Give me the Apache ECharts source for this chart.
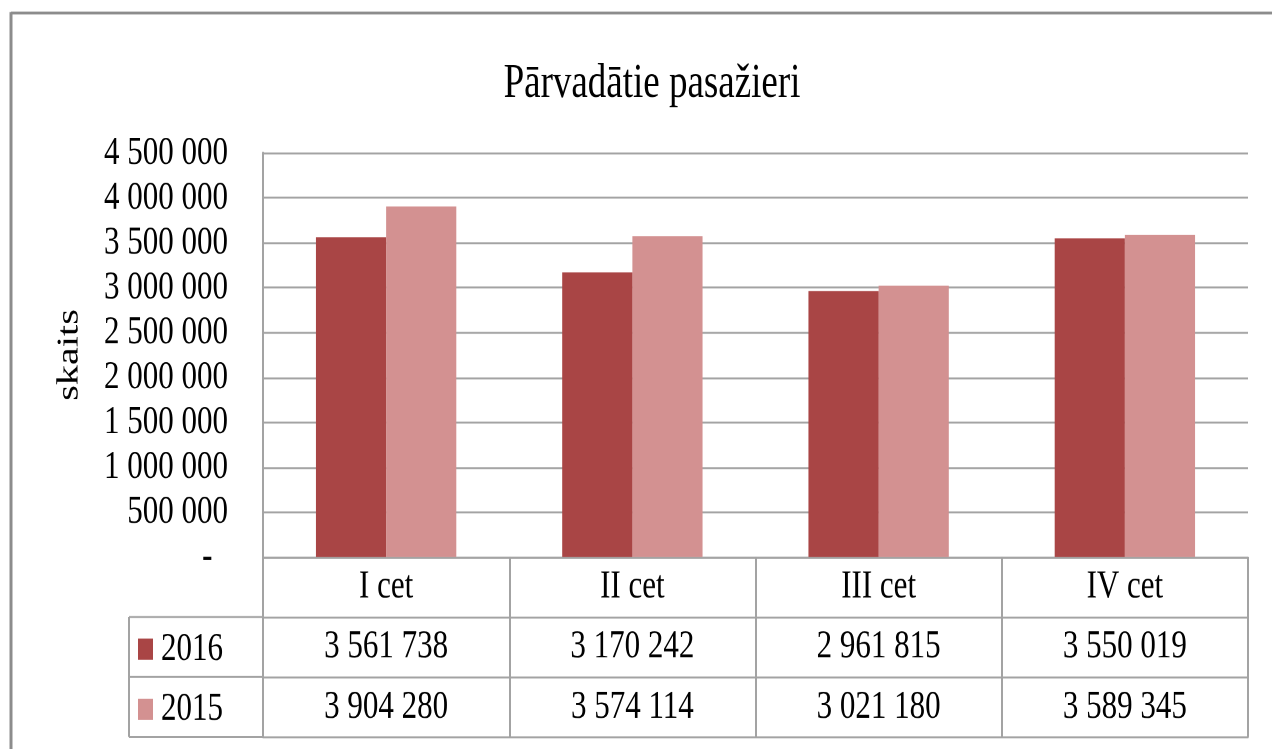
<!DOCTYPE html>
<html>
<head>
<meta charset="utf-8">
<script src="https://cdn.jsdelivr.net/npm/echarts@6/dist/echarts.min.js"></script>
<style>
  html, body { margin: 0; padding: 0; background: #fff; }
  body { width: 1272px; height: 749px; overflow: hidden; }
  /* oriģinālajā attēlā teksts ir vertikāli izstiepts, tāpēc visu zīmējumu izstiepj ar CSS */
  #chart { width: 1272px; height: 576px; transform: scaleY(1.3003); transform-origin: 0 0; }
</style>
</head>
<body>
<div id="chart"></div>
<script>
// dati
var quarters = ['I cet', 'II cet', 'III cet', 'IV cet'];
var years = ['2016', '2015'];
var values2016 = [3561738, 3170242, 2961815, 3550019];
var values2015 = [3904280, 3574114, 3021180, 3589345];
var yMax = 4500000;
var yStep = 500000;

var k = 749 / 576;           // vertikālais izstiepums
function Y(v) { return v / k; }

var font = 'Liberation Serif';
var lineColor = '#a3a3a3';
var rowH = Y(60);

function fmt(n) {
    return String(n).replace(/\B(?=(\d{3})+(?!\d))/g, ' ');
}

var labelStyle = {
    interval: 0,
    margin: rowH / 2 - 11.5,
    fontFamily: font,
    fontSize: 31,
    lineHeight: 23,
    color: '#000'
};

// rinda tabulā zem ass
function tableAxis(offset, rowValues) {
    return {
        type: 'category',
        data: quarters,
        position: 'bottom',
        offset: offset,
        axisLine: { show: true, lineStyle: { color: lineColor, width: 1.5 } },
        axisTick: { show: false },
        axisLabel: Object.assign({}, labelStyle, {
            show: !!rowValues,
            formatter: function (v, i) { return rowValues ? fmt(rowValues[i]) : ''; }
        })
    };
}

// leģenda katrai tabulas rindai atsevišķi
function rowLegend(name, rowIndex) {
    return {
        data: [name],
        left: 138,
        top: Y(644) + rowH * rowIndex - 11.5,
        padding: 0,
        itemWidth: 15,
        itemHeight: Y(21),
        icon: 'rect',
        textStyle: { fontFamily: font, fontSize: 31, lineHeight: 23, color: '#000', padding: [0, 0, 0, 3] }
    };
}

var chart = echarts.init(document.getElementById('chart'), null, { devicePixelRatio: 2 });

chart.setOption({
    animation: false,
    title: {
        text: 'Pārvadātie pasažieri',
        left: 647,
        top: Y(54),
        textAlign: 'center',
        textStyle: { fontFamily: font, fontSize: 37, fontWeight: 'normal', color: '#000' }
    },
    legend: [rowLegend(years[0], 0), rowLegend(years[1], 1)],
    grid: { left: 263, right: 24, top: Y(153), bottom: 576 - Y(557) },
    xAxis: [
        {
            type: 'category',
            data: quarters,
            position: 'bottom',
            axisLine: { show: true, lineStyle: { color: lineColor, width: 1.5 } },
            axisTick: { show: true, length: rowH * 3, interval: 0, lineStyle: { color: lineColor, width: 2 } },
            axisLabel: labelStyle
        },
        tableAxis(rowH, values2016),
        tableAxis(rowH * 2, values2015),
        tableAxis(rowH * 3, null)
    ],
    yAxis: {
        type: 'value',
        min: 0,
        max: yMax,
        interval: yStep,
        name: 'skaits',
        nameLocation: 'middle',
        nameRotate: 90,
        nameGap: 178,
        nameTextStyle: { fontFamily: font, fontSize: 31, color: '#000' },
        axisLine: { show: true, lineStyle: { color: lineColor, width: 2 } },
        axisTick: { show: false },
        splitLine: { lineStyle: { color: lineColor, width: 1.5 } },
        axisLabel: {
            margin: 35,
            fontFamily: font,
            fontSize: 31,
            color: '#000',
            formatter: function (v) { return v === 0 ? '-  ' : fmt(v); }
        }
    },
    series: [
        {
            name: '2016',
            type: 'bar',
            data: values2016,
            barGap: '0%',
            barCategoryGap: '43%',
            itemStyle: { color: '#a94545' }
        },
        {
            name: '2015',
            type: 'bar',
            data: values2015,
            itemStyle: { color: '#d39191' }
        }
    ],
    graphic: [
        // rāmis
        { type: 'line', shape: { x1: 11, y1: Y(13), x2: 1272, y2: Y(13) }, style: { stroke: '#8c8c8c', lineWidth: 2.3 } },
        { type: 'line', shape: { x1: 11, y1: Y(12), x2: 11, y2: 576 }, style: { stroke: '#8c8c8c', lineWidth: 3 } },
        // tabulas kreisā daļa
        { type: 'line', shape: { x1: 129, y1: Y(617), x2: 263, y2: Y(617) }, style: { stroke: lineColor, lineWidth: 1.5 } },
        { type: 'line', shape: { x1: 129, y1: Y(677), x2: 263, y2: Y(677) }, style: { stroke: lineColor, lineWidth: 1.5 } },
        { type: 'line', shape: { x1: 129, y1: Y(737), x2: 263, y2: Y(737) }, style: { stroke: lineColor, lineWidth: 1.5 } },
        { type: 'line', shape: { x1: 129, y1: Y(617), x2: 129, y2: Y(737) }, style: { stroke: lineColor, lineWidth: 2 } }
    ]
});
</script>
</body>
</html>
